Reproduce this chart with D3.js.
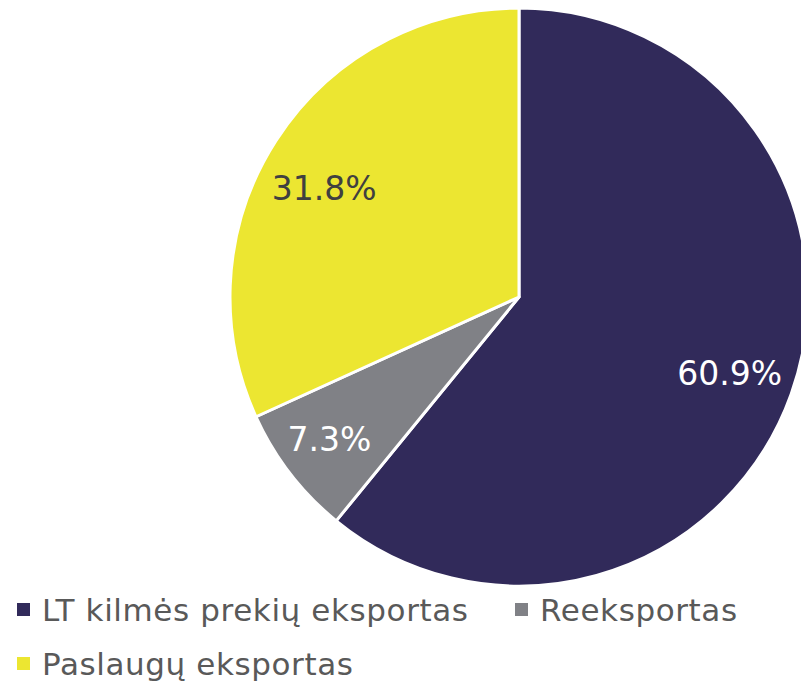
<!DOCTYPE html>
<html>
<head>
<meta charset="utf-8">
<script src="https://cdn.jsdelivr.net/npm/d3@7"></script>
<style>
  body { margin: 0; background: #fff; }
  text { font-family: "DejaVu Sans", Verdana, sans-serif; }
</style>
</head>
<body>
<div id="chart"></div>
<script>
var categories = ["LT kilmės prekių eksportas", "Reeksportas", "Paslaugų eksportas"];
var shares = [60.9, 7.3, 31.8];
var labels = ["60.9%", "7.3%", "31.8%"];
var colors = ["#312a5a", "#808186", "#ece631"];
var labelColors = ["#ffffff", "#ffffff", "#404040"];

var width = 801,
    height = 681,
    cx = 519,
    cy = 297,
    radius = 289;

var data = categories.map(function(c, i) { return { name: c, value: shares[i], label: labels[i] }; });

var svg = d3.select("#chart").append("svg")
    .attr("width", width)
    .attr("height", height);

var g = svg.append("g")
    .attr("transform", "translate(" + cx + "," + cy + ")");

var pie = d3.pie()
    .sort(null)
    .value(function(d) { return d.value; });

var arc = d3.arc().innerRadius(0).outerRadius(radius);
var labelArc = d3.arc().innerRadius(228).outerRadius(228);

// excel "best fit" puts the labels a bit off the centroid
var nudge = [[-4, 0], [-9, 3], [-3, 14]];

var arcs = pie(data);

g.selectAll("path")
    .data(arcs)
    .enter().append("path")
    .attr("d", arc)
    .attr("fill", function(d, i) { return colors[i]; })
    .attr("stroke", "#fff")
    .attr("stroke-width", 3)
    .attr("stroke-linejoin", "round");

g.selectAll("text.lbl")
    .data(arcs)
    .enter().append("text")
    .attr("class", "lbl")
    .attr("transform", function(d, i) {
        var c = labelArc.centroid(d);
        return "translate(" + (c[0] + nudge[i][0]) + "," + (c[1] + nudge[i][1]) + ")";
    })
    .attr("text-anchor", "middle")
    .attr("dy", "0.36em")
    .attr("font-size", 33)
    .attr("fill", function(d, i) { return labelColors[i]; })
    .text(function(d) { return d.data.label; });

// legend, two rows like the original
var legendPos = [[17, 610], [515, 610], [17, 664]];

var legend = svg.selectAll(".legend")
    .data(data)
    .enter().append("g")
    .attr("class", "legend")
    .attr("transform", function(d, i) { return "translate(" + legendPos[i][0] + "," + legendPos[i][1] + ")"; });

legend.append("rect")
    .attr("x", 0)
    .attr("y", -7)
    .attr("width", 13)
    .attr("height", 13)
    .attr("fill", function(d, i) { return colors[i]; });

legend.append("text")
    .attr("x", 25)
    .attr("y", 0)
    .attr("dy", "0.36em")
    .attr("font-size", 31)
    .attr("letter-spacing", 0.6)
    .attr("fill", "#595959")
    .text(function(d) { return d.name; });
</script>
</body>
</html>
